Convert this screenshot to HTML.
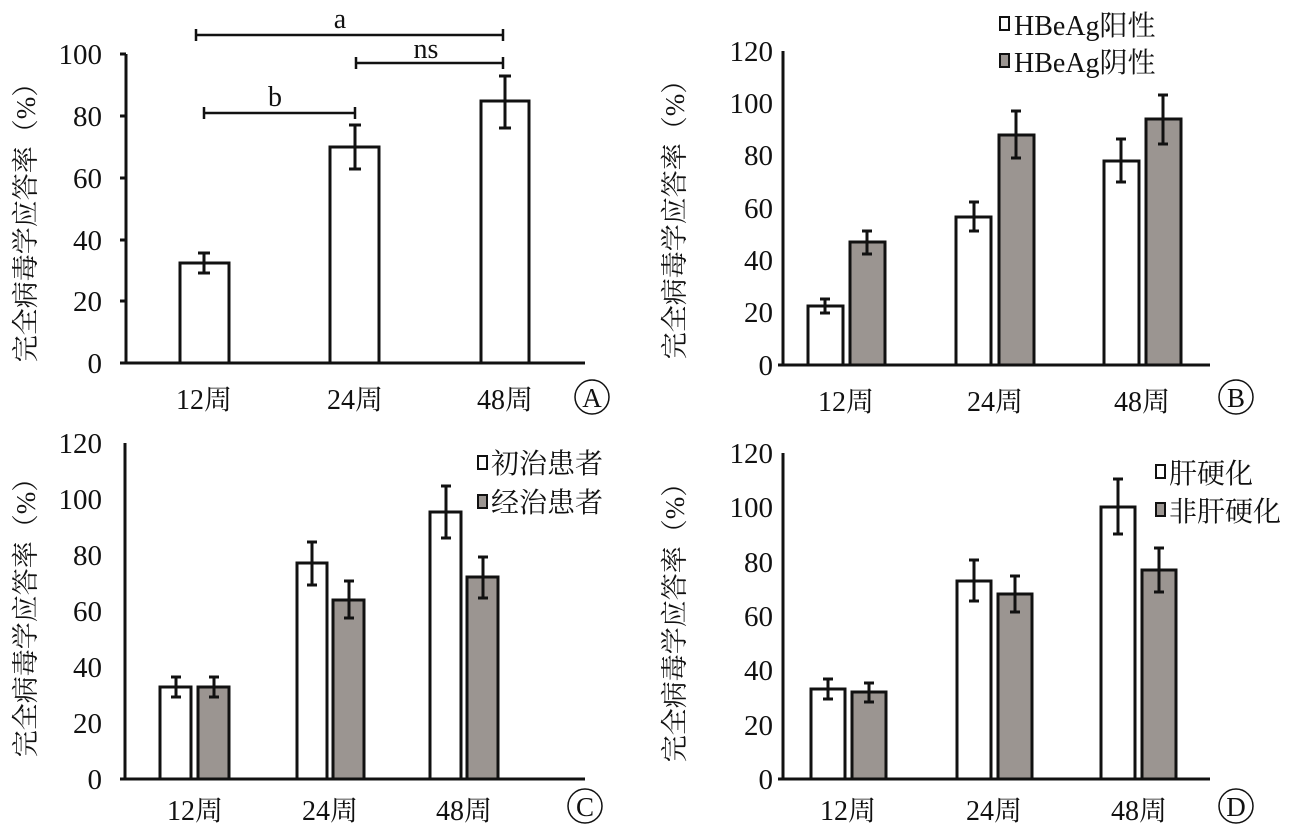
<!DOCTYPE html>
<html><head><meta charset="utf-8"><style>
html,body{margin:0;padding:0;background:#fff;}
svg{display:block;}
text{font-family:"Liberation Serif","Noto Serif CJK SC","Noto Sans CJK SC",serif;fill:#111;}
</style></head><body>
<svg width="1304" height="837" viewBox="0 0 1304 837">
<g stroke="#111" stroke-width="3" fill="none">
<line x1="126" y1="54" x2="126" y2="363"/><line x1="120" y1="363" x2="585" y2="363"/>
<line x1="120" y1="54" x2="126" y2="54"/><line x1="120" y1="116" x2="126" y2="116"/><line x1="120" y1="178" x2="126" y2="178"/><line x1="120" y1="240" x2="126" y2="240"/><line x1="120" y1="301" x2="126" y2="301"/>
<rect x="180" y="263" width="49" height="100" fill="#fff"/>
<rect x="330" y="147" width="49" height="216" fill="#fff"/>
<rect x="481" y="101" width="48" height="262" fill="#fff"/>
<path d="M204 253V273M198 253H210M198 273H210"/>
<path d="M355 125V169M349 125H361M349 169H361"/>
<path d="M505 76V128M499 76H511M499 128H511"/>
<path d="M196 35H503M196 29V41M503 29V41" stroke-width="2.5"/>
<path d="M356 63H503M356 57V69M503 57V69" stroke-width="2.5"/>
<path d="M204 113H355M204 107V119M355 107V119" stroke-width="2.5"/>
<line x1="783" y1="51" x2="783" y2="365"/><line x1="778" y1="365" x2="1210" y2="365"/>
<rect x="808" y="306" width="35" height="59" fill="#fff"/><rect x="850" y="242" width="35" height="123" fill="#9b9591"/>
<rect x="956" y="217" width="35" height="148" fill="#fff"/><rect x="999" y="135" width="35" height="230" fill="#9b9591"/>
<rect x="1104" y="161" width="35" height="204" fill="#fff"/><rect x="1146" y="119" width="35" height="246" fill="#9b9591"/>
<path d="M825 299V313M820 299H830M820 313H830"/><path d="M867 231V254M862 231H872M862 254H872"/>
<path d="M974 202V231M969 202H979M969 231H979"/><path d="M1016 111V158M1011 111H1021M1011 158H1021"/>
<path d="M1121 139V182M1116 139H1126M1116 182H1126"/><path d="M1163 95V144M1158 95H1168M1158 144H1168"/>
<rect x="1000" y="17" width="9" height="13" fill="#fff" stroke-width="2"/><rect x="1000" y="54" width="9" height="13" fill="#9b9591" stroke-width="2"/>
<line x1="125" y1="443" x2="125" y2="779"/><line x1="120" y1="779" x2="585" y2="779"/>
<rect x="160" y="687" width="31" height="92" fill="#fff"/><rect x="198" y="687" width="31" height="92" fill="#9b9591"/>
<rect x="297" y="563" width="30" height="216" fill="#fff"/><rect x="333" y="600" width="31" height="179" fill="#9b9591"/>
<rect x="430" y="512" width="31" height="267" fill="#fff"/><rect x="467" y="577" width="31" height="202" fill="#9b9591"/>
<path d="M176 677V697M171 677H181M171 697H181"/><path d="M214 677V697M209 677H219M209 697H219"/>
<path d="M312 542V585M307 542H317M307 585H317"/><path d="M349 581V618M344 581H354M344 618H354"/>
<path d="M446 486V538M441 486H451M441 538H451"/><path d="M483 557V598M478 557H488M478 598H488"/>
<rect x="478" y="456" width="9" height="13" fill="#fff" stroke-width="2"/><rect x="478" y="495" width="9" height="13" fill="#9b9591" stroke-width="2"/>
<line x1="783" y1="453" x2="783" y2="779"/><line x1="778" y1="779" x2="1210" y2="779"/>
<rect x="811" y="689" width="34" height="90" fill="#fff"/><rect x="852" y="692" width="34" height="87" fill="#9b9591"/>
<rect x="957" y="581" width="34" height="198" fill="#fff"/><rect x="998" y="594" width="34" height="185" fill="#9b9591"/>
<rect x="1101" y="507" width="34" height="272" fill="#fff"/><rect x="1142" y="570" width="34" height="209" fill="#9b9591"/>
<path d="M828 679V699M823 679H833M823 699H833"/><path d="M869 683V702M864 683H874M864 702H874"/>
<path d="M974 560V601M969 560H979M969 601H979"/><path d="M1015 576V612M1010 576H1020M1010 612H1020"/>
<path d="M1118 479V534M1113 479H1123M1113 534H1123"/><path d="M1159 548V592M1154 548H1164M1154 592H1164"/>
<rect x="1156" y="465" width="9" height="13" fill="#fff" stroke-width="2"/><rect x="1156" y="503" width="9" height="13" fill="#9b9591" stroke-width="2"/>
<circle cx="592" cy="397" r="17" stroke-width="1.5"/><circle cx="1236" cy="397" r="17" stroke-width="1.5"/>
<circle cx="585" cy="806" r="17" stroke-width="1.5"/><circle cx="1236" cy="806" r="17" stroke-width="1.5"/>
</g>
<g font-size="29" text-anchor="end">
<text x="102" y="373">0</text><text x="102" y="311">20</text><text x="102" y="250">40</text><text x="102" y="188">60</text><text x="102" y="126">80</text><text x="102" y="64">100</text>
<text x="773" y="375">0</text><text x="773" y="322">20</text><text x="773" y="270">40</text><text x="773" y="218">60</text><text x="773" y="165">80</text><text x="773" y="113">100</text><text x="773" y="61">120</text>
<text x="102" y="789">0</text><text x="102" y="733">20</text><text x="102" y="677">40</text><text x="102" y="621">60</text><text x="102" y="565">80</text><text x="102" y="509">100</text><text x="102" y="453">120</text>
<text x="773" y="789">0</text><text x="773" y="735">20</text><text x="773" y="680">40</text><text x="773" y="626">60</text><text x="773" y="572">80</text><text x="773" y="517">100</text><text x="773" y="463">120</text>
</g>
<g font-size="28" text-anchor="middle">
<text x="204" y="409">12周</text><text x="355" y="409">24周</text><text x="505" y="409">48周</text>
<text x="846" y="411">12周</text><text x="995" y="411">24周</text><text x="1142" y="411">48周</text>
<text x="195" y="820">12周</text><text x="330" y="820">24周</text><text x="464" y="820">48周</text>
<text x="848" y="820">12周</text><text x="994" y="820">24周</text><text x="1139" y="820">48周</text>
<text x="592" y="407" font-size="27">A</text><text x="1236" y="407" font-size="27">B</text><text x="585" y="816" font-size="27">C</text><text x="1236" y="816" font-size="27">D</text>
<text x="340" y="28">a</text><text x="426" y="58">ns</text><text x="275" y="106">b</text>
</g>
<g font-size="28">
<text x="1014" y="35">HBeAg阳性</text><text x="1014" y="72">HBeAg阴性</text>
<text x="491" y="473">初治患者</text><text x="491" y="512">经治患者</text>
<text x="1169" y="483">肝硬化</text><text x="1169" y="521">非肝硬化</text>
</g>
<g font-size="27" text-anchor="middle">
<text transform="translate(35,216) rotate(-90)">完全病毒学应答率（%）</text>
<text transform="translate(684,213) rotate(-90)">完全病毒学应答率（%）</text>
<text transform="translate(35,611) rotate(-90)">完全病毒学应答率（%）</text>
<text transform="translate(684,616) rotate(-90)">完全病毒学应答率（%）</text>
</g>
</svg>
</body></html>
